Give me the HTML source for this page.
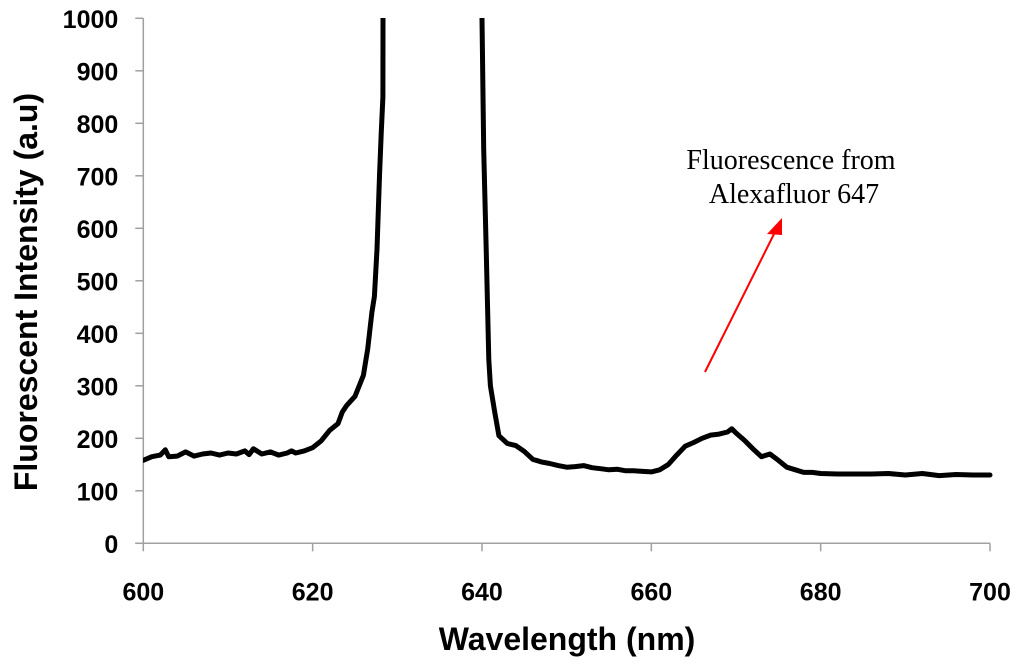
<!DOCTYPE html>
<html><head><meta charset="utf-8"><style>
html,body{margin:0;padding:0;background:#fff;}
svg{display:block;}
.tk{font-family:"Liberation Sans",sans-serif;font-weight:bold;font-size:25px;fill:#000;}
.ttl{font-family:"Liberation Sans",sans-serif;font-weight:bold;font-size:32px;fill:#000;}
.ann{font-family:"Liberation Serif",serif;font-size:28px;fill:#000;}
</style></head><body>
<svg id="chart" width="1024" height="668" viewBox="0 0 1024 668" xmlns="http://www.w3.org/2000/svg">
<defs><clipPath id="plotclip"><rect x="143" y="18" width="850" height="530"/></clipPath></defs>
<g id="axes"></g>
<g id="series" clip-path="url(#plotclip)"></g>
<text class="ttl" x="567" y="650" text-anchor="middle">Wavelength (nm)</text>
<text class="ttl" transform="translate(37,292) rotate(-90)" text-anchor="middle">Fluorescent Intensity (a.u)</text>
<text class="ann" x="791" y="169" text-anchor="middle">Fluorescence from</text>
<text class="ann" x="794" y="203" text-anchor="middle">Alexafluor 647</text>
<line x1="705" y1="372" x2="775" y2="232" stroke="#ff0000" stroke-width="2"/>
<polygon points="782,218 767,234 782,235" fill="#ff0000"/>
</svg>
<script>
const xTicks=[600,620,640,660,680,700];
const yTicks=[0,100,200,300,400,500,600,700,800,900,1000];
const wavelengths=[600,601,602,602.6,603,604,605,606,607,608,609,610,611,612,612.5,613,614,615,616,617,617.5,618,619,620,621,622,623,623.5,624,625,626,626.5,627,627.3,627.6,627.9,628.1,628.3,628.4,639.9,640.0,640.2,640.5,640.8,641,641.5,642,643,644,645,646,647,648,649,650,651,652,653,654,655,656,657,658,659,660,661,662,663,664,665,666,667,668,669,669.5,670,671,672,673,674,675,676,677,678,679,680,682,684,686,688,690,692,694,696,698,700];
const intensities=[158,165,168,178,165,166,174,166,170,172,168,172,170,176,169,180,170,174,168,172,176,172,176,182,195,215,228,250,262,280,320,370,440,470,560,700,780,850,2200,2200,1000,750,560,350,300,250,205,190,186,175,160,155,152,148,145,146,148,144,142,140,141,138,138,137,136,140,150,168,185,192,200,206,208,212,218,210,196,180,165,170,158,145,140,135,135,133,132,132,132,133,130,133,129,131,130,130,132];
const NS="http://www.w3.org/2000/svg";
const x0=143.3,pxPerNm=8.467,y0=543.3,pxPerUnit=0.525;
function xs(v){return x0+(v-600)*pxPerNm;}
function ys(v){return y0-v*pxPerUnit;}
const axes=document.getElementById('axes');
function mk(tag,attrs,parent){const e=document.createElementNS(NS,tag);for(const k in attrs)e.setAttribute(k,attrs[k]);parent.appendChild(e);return e;}
let e=mk('line',{x1:x0,y1:ys(1000),x2:x0,y2:y0,stroke:'#a0a0a0','stroke-width':1.5},axes);


e=mk('line',{x1:x0-8,y1:y0,x2:xs(700),y2:y0,stroke:'#a0a0a0','stroke-width':1.5},axes);


yTicks.forEach(v=>{
  const t=mk('line',{x1:x0-8,y1:ys(v),x2:x0,y2:ys(v),stroke:'#a0a0a0','stroke-width':1.5},axes);
  
  
  const l=mk('text',{x:x0-25,y:ys(v)+9.5,'text-anchor':'end','class':'tk'},axes);
  l.textContent=v;
  
  
});
xTicks.forEach(v=>{
  const t=mk('line',{x1:xs(v),y1:y0,x2:xs(v),y2:y0+8,stroke:'#a0a0a0','stroke-width':1.5},axes);
  
  
  const l=mk('text',{x:xs(v),y:y0+57,'text-anchor':'middle','class':'tk'},axes);
  l.textContent=v;
  
  
});
const d=wavelengths.map((w,i)=>(i?'L':'M')+xs(w).toFixed(1)+','+ys(intensities[i]).toFixed(1)).join(' ');
const p=mk('path',{d:d,fill:'none',stroke:'#000','stroke-width':5,'stroke-linejoin':'round','stroke-linecap':'round'},document.getElementById('series'));


</script>
</body></html>
